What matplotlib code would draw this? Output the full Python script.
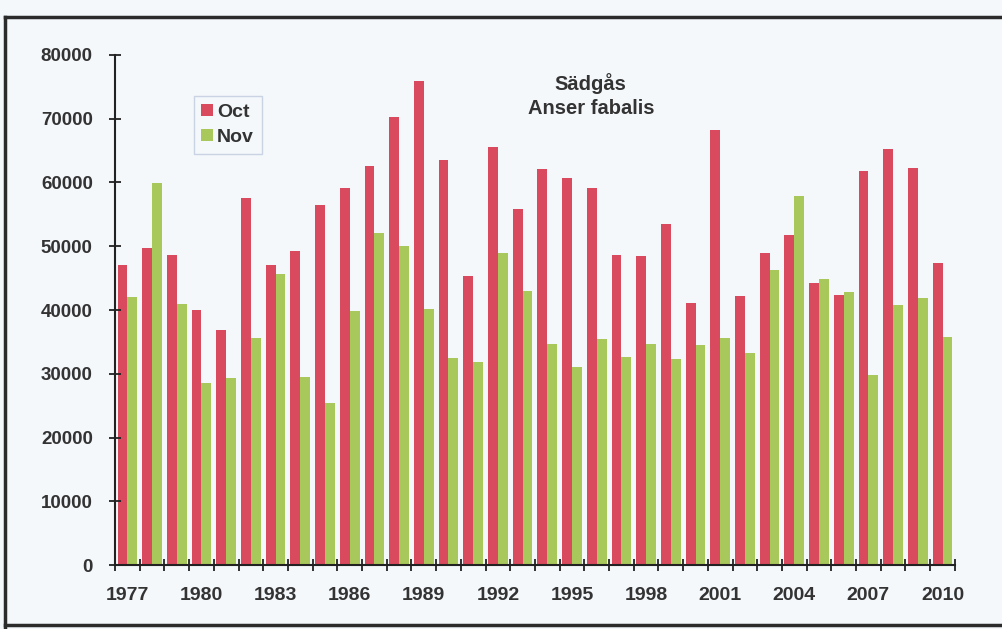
import numpy as np
import matplotlib
matplotlib.use("Agg")
import matplotlib.pyplot as plt
from matplotlib.lines import Line2D

# yearly goose counts
years = list(range(1977, 2011))
oct_counts = [47000, 49700, 48600, 40000, 36900, 57600, 47000, 49300, 56500, 59100,
              62600, 70300, 75900, 63600, 45300, 65500, 55800, 62100, 60700, 59200,
              48700, 48500, 53500, 41100, 68200, 42200, 49000, 51700, 44300, 42300,
              61800, 65200, 62300, 47300]
nov_counts = [42000, 59900, 40900, 28600, 29400, 35600, 45700, 29500, 25400, 39800,
              52100, 50000, 40200, 32400, 31900, 48900, 43000, 34600, 31100, 35400,
              32700, 34700, 32300, 34500, 35600, 33300, 46200, 57900, 44900, 42900,
              29800, 40800, 41900, 35800]
yticks = [0, 10000, 20000, 30000, 40000, 50000, 60000, 70000, 80000]

BG = "#f4f8fb"
TXT = "#333333"
plt.rcParams['font.family'] = ['Liberation Sans', 'DejaVu Sans']
plt.rcParams['font.weight'] = 'bold'

fig = plt.figure(figsize=(10.03, 6.29), dpi=100, facecolor=BG)
ax = fig.add_axes([0.1147, 0.1017, 0.952 - 0.1147, 0.9126 - 0.1017])
ax.set_facecolor(BG)

x = np.arange(len(years))
w = 0.4
ax.bar(x - w / 2, oct_counts, w, color="#da4a5e", label="Oct")
ax.bar(x + w / 2, nov_counts, w, color="#a9c85b", label="Nov")

ax.set_xlim(-0.5, len(years) - 0.5)
ax.set_ylim(0, 80000)

# axes: only left and bottom, ticks crossing the lines
for s in ["top", "right"]:
    ax.spines[s].set_visible(False)
for s in ["left", "bottom"]:
    ax.spines[s].set_color("#222222")
    ax.spines[s].set_linewidth(1.5)

ax.set_yticks(yticks)
ax.set_yticklabels([str(v) for v in yticks], fontsize=13.5, color=TXT, fontweight='bold')
ax.tick_params(axis='y', direction='inout', length=8, width=1.3, color="#222222", pad=12)

ax.set_xticks(x[::3])
ax.set_xticklabels([str(y) for y in years[::3]], fontsize=14, color=TXT, fontweight='bold')
ax.tick_params(axis='x', which='major', length=0, pad=16)
ax.set_xticks(np.arange(-0.5, len(years)), minor=True)
ax.tick_params(axis='x', which='minor', direction='inout', length=8, width=1.3, color="#222222")

# title inside the plot
fig.text(0.589, 0.868, "Sädgås", ha='center', va='center', fontsize=14.5, color=TXT, fontweight='bold')
fig.text(0.589, 0.828, "Anser fabalis", ha='center', va='center', fontsize=14.5, color=TXT, fontweight='bold')

leg = ax.legend(loc='upper left', bbox_to_anchor=(0.193, 0.847), bbox_transform=fig.transFigure,
                borderaxespad=0, fontsize=14, handlelength=0.6, handleheight=0.6,
                handletextpad=0.2, labelspacing=0.4, borderpad=0.4, fancybox=False,
                framealpha=1, facecolor=BG, edgecolor="#c9d3e3")
for t in leg.get_texts():
    t.set_color(TXT)
    t.set_fontweight('bold')

# dark frame of the scanned chart
frame_kw = dict(color="#2b2b2b", linewidth=2.5, transform=fig.transFigure)
fig.add_artist(Line2D([0.005, 1.0], [0.973, 0.973], **frame_kw))
fig.add_artist(Line2D([0.005, 0.005], [0.0, 0.973], **frame_kw))
fig.add_artist(Line2D([0.005, 1.0], [0.006, 0.006], **frame_kw))

fig.savefig("out.png", dpi=100, facecolor=BG)
